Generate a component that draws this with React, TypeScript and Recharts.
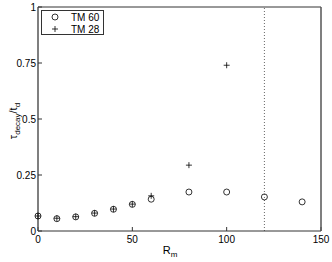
import {
  ScatterChart,
  Scatter,
  XAxis,
  YAxis,
  ReferenceLine,
} from "recharts";

const tm60X = [0, 10, 20, 30, 40, 50, 60, 80, 100, 120, 140];
const tm60Y = [0.067, 0.055, 0.063, 0.079, 0.097, 0.119, 0.142, 0.174, 0.174, 0.152, 0.13];
const tm28X = [0, 10, 20, 30, 40, 50, 60, 80, 100];
const tm28Y = [0.067, 0.057, 0.064, 0.08, 0.098, 0.12, 0.157, 0.294, 0.74];
const xTicks = [0, 50, 100, 150];
const yTicks = [0, 0.25, 0.5, 0.75, 1];
const cutoff = 120;

const tm60 = tm60X.map((x, i) => ({ x, y: tm60Y[i] }));
const tm28 = tm28X.map((x, i) => ({ x, y: tm28Y[i] }));

const font = '"Liberation Sans", Arial, Helvetica, sans-serif';
const tickStyle = { fontSize: 10, fill: "#000", fontFamily: font };

const Circle = (props: any) => (
  <circle cx={props.cx} cy={props.cy} r={3} fill="none" stroke="#000" strokeWidth={0.8} />
);

const Plus = (props: any) => (
  <g stroke="#000" strokeWidth={0.8}>
    <line x1={props.cx - 3} y1={props.cy} x2={props.cx + 3} y2={props.cy} />
    <line x1={props.cx} y1={props.cy - 3} x2={props.cx} y2={props.cy + 3} />
  </g>
);

const legendRows = [
  { name: "TM 60", mark: "o" },
  { name: "TM 28", mark: "+" },
];

// legend box sits over the plot, like matlab's "NorthWest" legend
const LegendBox = () => (
  <div
    style={{
      position: "absolute",
      left: 41,
      top: 10,
      width: 63,
      height: 25,
      border: "1px solid #333",
      background: "#fff",
      fontFamily: font,
      fontSize: 10,
      boxSizing: "border-box",
      paddingTop: 0,
    }}
  >
    {legendRows.map((r) => (
      <div key={r.name} style={{ display: "flex", height: 12, alignItems: "center" }}>
        <svg width={28} height={12}>
          {r.mark === "o" ? <Circle cx={13} cy={6} /> : <Plus cx={13} cy={6} />}
        </svg>
        <span style={{ marginLeft: 1 }}>{r.name}</span>
      </div>
    ))}
  </div>
);

const YTitle = () => (
  <text
    transform="translate(17,121) rotate(-90)"
    textAnchor="middle"
    fontFamily={font}
    fill="#000"
  >
    <tspan fontSize={11}>τ</tspan>
    <tspan fontSize={8} dy={3}>decay</tspan>
    <tspan fontSize={11} dy={-3}>/t</tspan>
    <tspan fontSize={8} dy={3}>d</tspan>
  </text>
);

const XTitle = () => (
  <text x={170} y={254} textAnchor="middle" fontFamily={font} fill="#000">
    <tspan fontSize={11}>R</tspan>
    <tspan fontSize={8} dy={3}>m</tspan>
  </text>
);

export default function App() {
  return (
    <div style={{ position: "absolute", left: 0, top: 0, width: 332, height: 262, background: "#fff" }}>
      <ScatterChart width={332} height={262} margin={{ top: 6, right: 10, left: 0, bottom: 0 }}>
        <XAxis
          xAxisId={0}
          type="number"
          dataKey="x"
          domain={[0, 150]}
          ticks={xTicks}
          height={31}
          tickSize={-4}
          tickMargin={9}
          tick={tickStyle}
          axisLine={{ stroke: "#333" }}
          tickLine={{ stroke: "#333" }}
          label={<XTitle />}
        />
        <XAxis
          xAxisId="top"
          orientation="top"
          type="number"
          domain={[0, 150]}
          ticks={xTicks}
          height={1}
          tickSize={-4}
          tick={false}
          axisLine={{ stroke: "#333" }}
          tickLine={{ stroke: "#333" }}
        />
        <YAxis
          yAxisId={0}
          type="number"
          dataKey="y"
          domain={[0, 1]}
          ticks={yTicks}
          width={38}
          tickSize={-4}
          tickMargin={6}
          tick={tickStyle}
          axisLine={{ stroke: "#555", strokeWidth: 1.5 }}
          tickLine={{ stroke: "#333" }}
          label={<YTitle />}
        />
        <YAxis
          yAxisId="right"
          orientation="right"
          type="number"
          domain={[0, 1]}
          ticks={yTicks}
          width={1}
          tickSize={-4}
          tick={false}
          axisLine={{ stroke: "#555", strokeWidth: 1.5 }}
          tickLine={{ stroke: "#333" }}
        />
        <ReferenceLine x={cutoff} stroke="#666" strokeDasharray="1 2" />
        <Scatter name="TM 60" data={tm60} shape={<Circle />} isAnimationActive={false} />
        <Scatter name="TM 28" data={tm28} shape={<Plus />} isAnimationActive={false} />
      </ScatterChart>
      <LegendBox />
    </div>
  );
}
